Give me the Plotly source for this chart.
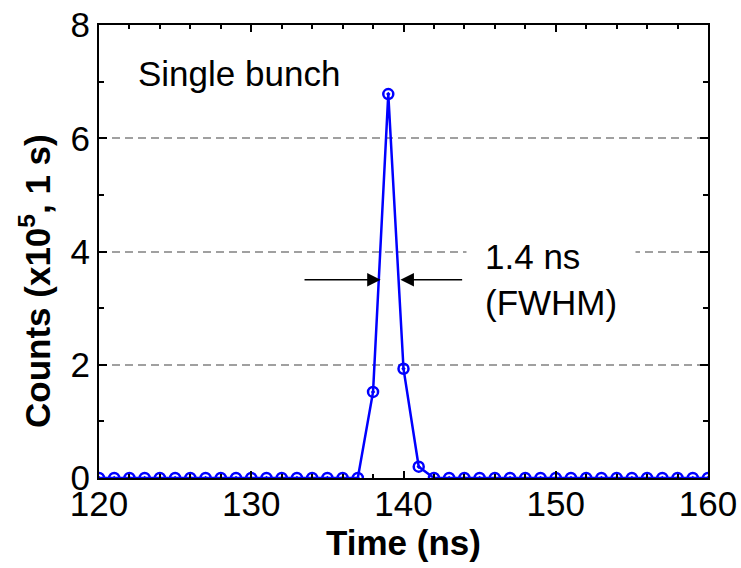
import plotly.graph_objects as go

# time axis (ns) and counts (x10^5, 1 s)
time_ns = list(range(120, 161))
peak = {138: 1.52, 139: 6.78, 140: 1.93, 141: 0.20}
counts = [peak.get(t, 0.0) for t in time_ns]

x_ticks = [120, 130, 140, 150, 160]
y_ticks = [0, 2, 4, 6, 8]

# FWHM arrows: (tail, head) in ns, at height in counts
fwhm_y = 3.5
arrow_left = (133.4, 138.5)
arrow_right = (143.95, 139.8)

font = "Liberation Sans, Arial, sans-serif"
blue = "#0000ff"

fig = go.Figure()
fig.add_trace(go.Scatter(
    x=time_ns, y=counts, mode="lines+markers",
    line=dict(color=blue, width=2.5),
    marker=dict(symbol="circle-open-dot", size=10, color=blue,
                line=dict(color=blue, width=2.5)),
    showlegend=False))

axis_common = dict(
    showline=True, linewidth=2, linecolor="black", mirror="ticks",
    ticks="inside", tickcolor="black", tickwidth=2,
    tickfont=dict(family=font, size=35, color="black"),
    zeroline=False, automargin=False)

fig.update_xaxes(range=[120, 160], tickvals=x_ticks, ticklen=7,
                 showgrid=False, ticklabelstandoff=-6,
                 minor=dict(dtick=2, ticks="inside", ticklen=4,
                            tickwidth=1.5, tickcolor="black"),
                 title=dict(text="<b>Time (ns)</b>",
                            font=dict(family=font, size=35, color="black"),
                            standoff=8),
                 **axis_common)
fig.update_yaxes(range=[0, 8], tickvals=y_ticks, ticklen=8,
                 showgrid=True, gridcolor="#a0a0a0", gridwidth=1.5,
                 griddash="8px,5px",
                 minor=dict(dtick=1, ticks="inside", ticklen=5,
                            tickwidth=1.5, tickcolor="black"),
                 **axis_common)

anns = [
    dict(x=-0.105, y=0.435, xref="paper", yref="paper",
         xanchor="center", yanchor="middle",
         text="<b>Counts (x10<sup>5</sup>, 1 s)</b>", textangle=-90,
         showarrow=False, font=dict(family=font, size=35, color="black")),
    dict(x=122.4, y=7.15, xref="x", yref="y", text="Single bunch",
         xanchor="left", showarrow=False,
         font=dict(family=font, size=35, color="black")),
    dict(x=144.1, y=fwhm_y, xref="x", yref="y", text="1.4 ns<br>(FWHM)",
         xanchor="left", align="left", showarrow=False, bgcolor="white",
         borderpad=18, font=dict(family=font, size=35, color="black")),
]
for tail, head in (arrow_left, arrow_right):
    anns.append(dict(x=head, y=fwhm_y, ax=tail, ay=fwhm_y, xref="x", yref="y",
                     axref="x", ayref="y", text="", showarrow=True,
                     arrowhead=2, arrowsize=1.8, arrowwidth=1.5,
                     arrowcolor="black"))

fig.update_layout(
    width=741, height=568,
    margin=dict(l=99, r=33, t=25, b=90, autoexpand=False),
    plot_bgcolor="white", paper_bgcolor="white",
    annotations=anns)

# drop the default body margin so the figure fills the window
fig.write_html("out.html", config={"displayModeBar": False},
               post_script="document.body.style.margin='0';")
